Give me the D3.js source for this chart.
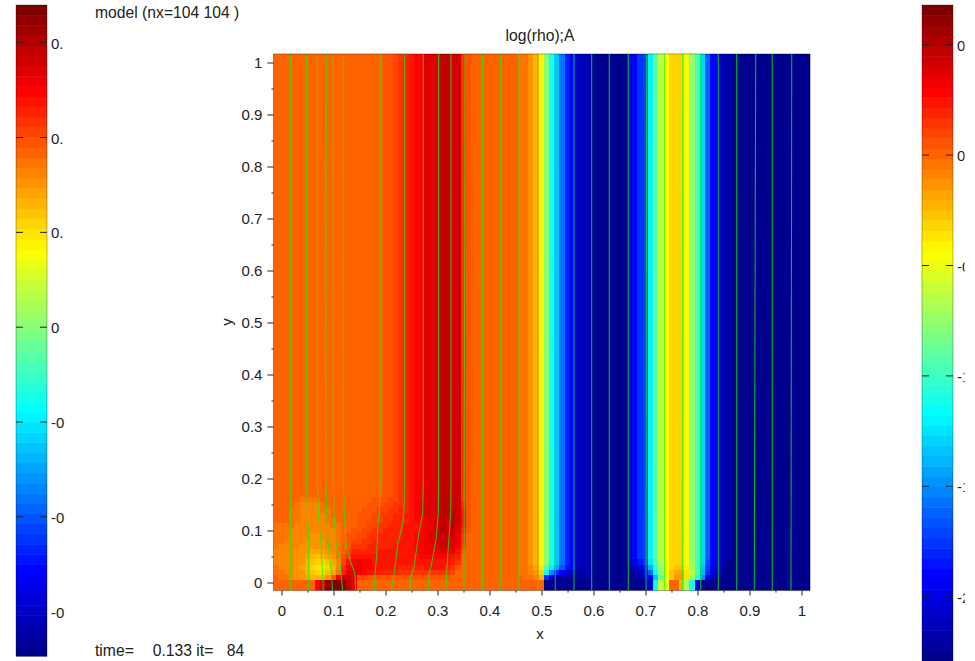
<!DOCTYPE html>
<html>
<head>
<meta charset="utf-8">
<script src="https://cdn.jsdelivr.net/npm/d3@7/dist/d3.min.js"></script>
<style>
  html, body { margin: 0; background: #fff; overflow: hidden; }
  text { font-family: "Liberation Sans", Arial, sans-serif; font-size: 15px; fill: #222; }
  .big { font-size: 15.7px; }
</style>
</head>
<body>
<div id="chart"></div>
<script>
// palette level (0-63) of every column above the disturbed bottom layer
const topProfile = [
  49,49,49,49,49,49,49,49,49,49,49,49,49,49,49,49,49,49,49,49,49,
  50,50,51,52,53,54,55,55,57,57,57,59,59,58,58,52,50,
  49,49,49,49,49,49,49,49,49,48,48,46,44,40,32,25,20,15,10,8,4,3,2,1,
  0,0,0,0,0,0,6,8,11,12,23,29,35,39,42,42,42,39,33,28,21,14,8,6,2,2,
  0,0,0,0,0,0,0,0,0,0,0,0,0,0,0,0
];

// bottom rows, first row is the lowest one, columns 0-39
const leftRows = [
  [49,49,49,49,49,49,49,49,55,58,62,63,63,62,59,56,49,49,49,49,49,49,49,49,49,49,49,49,49,49,49,49,49,49,49,49,49,49,49,49],
  [49,49,49,49,49,49,49,49,55,58,62,63,63,62,59,56,49,49,49,49,49,49,49,49,49,49,49,49,49,49,49,49,49,49,49,49,49,49,49,49],
  [49,48,48,47,46,46,45,44,44,44,46,50,56,58,58,56,51,51,50,50,50,50,50,50,50,50,50,50,50,50,50,50,50,50,49,49,49,49,49,49],
  [48,48,47,47,46,46,44,43,42,42,43,45,48,53,56,57,56,55,54,54,53,53,53,53,52,52,52,52,52,52,52,52,52,52,51,49,49,49,49,49],
  [48,47,47,47,46,45,44,42,41,41,42,44,47,52,55,56,56,55,55,54,54,54,54,54,53,53,53,53,53,54,54,54,54,53,52,50,49,49,49,49],
  [47,47,47,47,46,46,44,43,42,42,43,45,47,51,54,55,56,55,55,54,54,54,54,54,54,54,54,54,54,54,54,54,54,54,53,52,49,49,49,49],
  [47,47,47,47,46,46,45,44,43,44,45,46,48,50,52,54,54,54,54,54,54,54,54,54,54,54,54,54,55,55,55,55,55,55,54,53,49,49,49,49],
  [47,47,47,47,46,46,46,45,45,45,46,47,48,49,51,53,53,53,53,53,54,54,54,54,54,54,54,55,55,56,56,56,57,57,56,54,50,49,49,49],
  [48,47,47,47,47,46,46,46,46,46,47,47,48,49,50,52,52,52,53,53,53,53,53,54,54,54,54,55,55,56,56,57,58,58,57,55,51,49,49,49],
  [48,48,47,47,47,47,46,46,46,46,47,47,48,49,50,51,51,52,52,53,53,53,53,53,54,54,54,55,55,56,57,58,58,58,57,56,52,49,49,49],
  [48,48,48,47,47,47,47,46,46,47,47,47,48,49,50,50,51,51,52,52,53,53,53,53,53,54,54,55,55,56,57,58,58,59,58,56,52,49,49,49],
  [48,48,48,47,47,47,47,47,47,47,47,47,48,49,49,50,50,51,51,52,52,53,53,53,53,54,54,54,55,56,57,58,59,59,58,57,53,50,49,49],
  [48,48,48,48,47,47,47,47,47,47,47,48,48,49,49,49,50,50,51,51,52,52,53,53,53,54,54,54,55,56,57,58,59,59,59,57,54,50,49,49],
  [49,49,49,48,48,47,47,47,47,47,48,48,49,49,49,49,50,50,50,51,51,52,52,53,53,53,54,55,55,56,57,58,59,59,59,58,54,50,49,49],
  [49,49,49,48,48,47,47,47,47,47,48,49,49,49,49,49,50,50,50,51,51,52,52,53,53,54,54,55,56,57,57,58,59,59,59,58,54,50,49,49],
  [49,49,49,48,48,47,47,47,47,48,48,49,49,49,49,49,49,50,50,50,51,51,52,52,53,53,54,55,56,57,57,58,59,59,59,58,54,50,49,49],
  [49,49,49,49,48,47,47,47,47,48,49,49,49,49,49,49,49,49,50,50,50,51,51,52,52,53,54,55,56,57,57,58,59,59,58,58,53,50,49,49],
  [49,49,49,49,49,48,48,48,48,49,49,49,49,49,49,49,49,49,49,50,50,50,51,51,52,53,54,55,55,57,57,57,59,59,58,58,52,50,49,49]
];

// foot of the front near x=0.5, columns 47-60, lowest row first
const midRows = [
  [49,49,49,49,49,0,0,0,0,0,0,0,0,0],
  [49,49,49,49,49,0,0,0,0,0,0,0,0,0],
  [49,48,48,47,44,11,5,2,1,1,1,1,1,1],
  [48,48,47,46,42,24,16,10,7,5,3,2,2,2],
  [48,48,47,45,41,29,23,18,13,9,7,4,3,2]
];

// foot of the band near x=0.75, columns 68-87, lowest row first
const rightRows = [
  [0,0,0,0,6,24,36,38,49,49,44,34,25,6,0,0,0,0,0,0],
  [0,0,0,0,6,24,36,38,49,49,44,34,25,6,0,0,0,0,0,0],
  [0,1,2,4,8,20,30,38,43,46,46,41,33,26,17,8,2,1,0,0],
  [1,2,3,6,14,24,32,39,43,45,45,41,35,28,19,11,6,3,1,0],
  [2,3,6,9,19,26,33,39,42,43,43,40,34,28,20,12,7,4,2,0],
  [4,6,9,11,22,28,34,39,42,42,42,39,33,28,21,13,8,5,2,0]
];

// field lines that stay straight: x at the top, x at the bottom
const straightLines = [
  [0.0177,0.0177],[0.3529,0.3510],[0.3862,0.3862],[0.4215,0.4215],[0.4567,0.4567],
  [0.4927,0.4927],[0.5273,0.5265],[0.5625,0.5625],[0.5965,0.5965],[0.6304,0.6304],
  [0.6669,0.6669],[0.7023,0.7010],[0.7362,0.7362],[0.7715,0.7708],[0.8062,0.8062],
  [0.8400,0.8400],[0.8754,0.8754],[0.9119,0.9092],[0.9438,0.9438],[0.9812,0.9798]
];

// field lines that bend near the bottom, [x, y] going down
const bentLines = [
  [[0.0484,1.0165],[0.0484,0.197],[0.0497,0.133],[0.0522,0.088],[0.0522,-0.0155]],
  [[0.0689,1.0165],[0.0689,0.197],[0.0708,0.133],[0.0753,0.082],[0.0785,0.030],[0.0804,-0.0155]],
  [[0.0860,1.0165],[0.0849,0.197],[0.0869,0.133],[0.0901,0.069],[0.0945,0.030],[0.0984,-0.0155]],
  [[0.0996,1.0165],[0.0996,0.197],[0.1010,0.133],[0.1048,0.075],[0.1125,0.037],[0.1176,-0.0155]],
  [[0.1189,1.0165],[0.1189,0.197],[0.1208,0.133],[0.1240,0.075],[0.1317,0.043],[0.1413,0.017],[0.1426,-0.0155]],
  [[0.1894,1.0165],[0.1894,0.197],[0.1881,0.133],[0.1856,0.114],[0.1830,0.050],[0.1798,0.017],[0.1785,-0.0155]],
  [[0.2369,1.0165],[0.2369,0.197],[0.2356,0.133],[0.2330,0.114],[0.2228,0.069],[0.2183,0.030],[0.2112,-0.0155]],
  [[0.2727,1.0165],[0.2727,0.197],[0.2715,0.133],[0.2631,0.088],[0.2548,0.030],[0.2484,0.011],[0.2471,-0.0155]],
  [[0.3022,1.0165],[0.3022,0.197],[0.3016,0.133],[0.2971,0.082],[0.2888,0.037],[0.2837,0.014],[0.2824,-0.0155]],
  [[0.3260,1.0165],[0.3260,0.197],[0.3253,0.133],[0.3208,0.069],[0.3176,0.017],[0.3163,-0.0155]]
];

const xTicks = [0,0.1,0.2,0.3,0.4,0.5,0.6,0.7,0.8,0.9,1];
const minorTicks = [0.05,0.15,0.25,0.35,0.45,0.55,0.65,0.75,0.85,0.95];

const leftBarTicks = [0.6,0.4,0.2,0,-0.2,-0.4,-0.6];
const leftBarLabels = ["0.","0.","0.","0","-0","-0","-0"];
const rightBarTicks = [0.5,0,-0.5,-1,-1.5,-2];
const rightBarLabels = ["0","0","-0","-1","-1","-2"];

const nLevels = 64;
const width = 975, height = 661;

const x = d3.scaleLinear().domain([-0.0155, 1.0165]).range([273.44, 810.08]);
const y = d3.scaleLinear().domain([-0.0155, 1.0165]).range([590.56, 53.92]);

// jet palette
const jet = d3.scaleLinear()
  .domain([0, 1/8, 3/8, 5/8, 7/8, 1])
  .range(["#00008f", "#0000ff", "#00ffff", "#ffff00", "#ff0000", "#800000"]);
const palette = d3.range(nLevels).map(i => jet(i / (nLevels - 1)));

// full field from the profile and the bottom rows
const field = d3.range(18).map(r => {
  const row = topProfile.slice();
  (leftRows[r] || []).forEach((v, i) => { row[i] = v; });
  (midRows[r] || []).forEach((v, i) => { row[47 + i] = v; });
  (rightRows[r] || []).forEach((v, i) => { row[68 + i] = v; });
  return row;
});
const cellSize = 0.01;
const cellX = i => -0.0155 + cellSize * i;

const svg = d3.select("#chart").append("svg")
  .attr("width", width)
  .attr("height", height)
  .style("display", "block");

const defs = svg.append("defs");
defs.append("clipPath").attr("id", "plot-clip").append("rect")
  .attr("x", x(-0.0155)).attr("y", y(1.0165))
  .attr("width", x(1.0165) - x(-0.0155)).attr("height", y(-0.0155) - y(1.0165));
defs.append("clipPath").attr("id", "label-clip").append("rect")
  .attr("x", 900).attr("y", 0).attr("width", 64.7).attr("height", height);

const plot = svg.append("g").attr("clip-path", "url(#plot-clip)");

// everything above the bottom rows is one tall cell per column
plot.selectAll(".col")
  .data(topProfile)
  .enter().append("rect")
  .attr("class", "col")
  .attr("x", (d, i) => x(cellX(i)))
  .attr("y", y(1.0165))
  .attr("width", x(cellSize) - x(0))
  .attr("height", y(cellX(field.length)) - y(1.0165))
  .attr("fill", d => palette[d])
  .attr("shape-rendering", "crispEdges");

field.forEach((row, r) => {
  plot.append("g").selectAll("rect")
    .data(row)
    .enter().append("rect")
    .attr("x", (d, i) => x(cellX(i)))
    .attr("y", y(cellX(r + 1)))
    .attr("width", x(cellSize) - x(0))
    .attr("height", y(cellX(r)) - y(cellX(r + 1)))
    .attr("fill", d => palette[d])
    .attr("shape-rendering", "crispEdges");
});

// field lines
const line = d3.line().x(d => x(d[0])).y(d => y(d[1]));
const allLines = straightLines
  .map(d => [[d[0], 1.0165], [d[1], -0.0155]])
  .concat(bentLines);

plot.selectAll(".field-line")
  .data(allLines)
  .enter().append("path")
  .attr("class", "field-line")
  .attr("d", line)
  .attr("fill", "none")
  .attr("stroke", "#00ff00")
  .attr("stroke-width", 1.1)
  .attr("stroke-opacity", 0.72);

// frame
svg.append("rect")
  .attr("x", x(-0.0155)).attr("y", y(1.0165))
  .attr("width", x(1.0165) - x(-0.0155)).attr("height", y(-0.0155) - y(1.0165))
  .attr("fill", "none")
  .attr("stroke", "#000")
  .attr("stroke-opacity", 0.35);

// axes
const fmt = d => String(+d.toFixed(1));

function styleAxis(g) {
  g.select(".domain").remove();
  g.selectAll(".tick line").attr("stroke", "#222");
  g.selectAll("text").style("font-size", "15px").attr("fill", "#222");
  return g;
}

svg.append("g")
  .attr("transform", `translate(0,${y(-0.0155)})`)
  .call(d3.axisBottom(x).tickValues(xTicks).tickFormat(fmt).tickSize(5).tickPadding(10))
  .call(styleAxis);
svg.append("g")
  .attr("transform", `translate(0,${y(-0.0155)})`)
  .call(d3.axisBottom(x).tickValues(minorTicks).tickFormat("").tickSize(2))
  .call(styleAxis);
svg.append("g")
  .attr("transform", `translate(${x(-0.0155)},0)`)
  .call(d3.axisLeft(y).tickValues(xTicks).tickFormat(fmt).tickSize(6).tickPadding(5))
  .call(styleAxis);
svg.append("g")
  .attr("transform", `translate(${x(-0.0155)},0)`)
  .call(d3.axisLeft(y).tickValues(minorTicks).tickFormat("").tickSize(2))
  .call(styleAxis);

// colour bars
function colorBar(left, top, bottom, tickValues, tickY, labels, labelX, clip) {
  const w = 31;
  const band = d3.scaleBand().domain(d3.range(nLevels)).range([bottom, top]);
  const g = svg.append("g");
  g.selectAll("rect.level")
    .data(palette)
    .enter().append("rect")
    .attr("class", "level")
    .attr("x", left)
    .attr("y", (d, i) => band(i))
    .attr("width", w)
    .attr("height", band.bandwidth() + 0.5)
    .attr("fill", d => d);
  g.append("rect")
    .attr("x", left).attr("y", top)
    .attr("width", w).attr("height", bottom - top)
    .attr("fill", "none")
    .attr("stroke", "#000")
    .attr("stroke-opacity", 0.3);
  tickValues.forEach((v, i) => {
    const py = tickY(v);
    g.append("line").attr("x1", left).attr("x2", left + 7).attr("y1", py).attr("y2", py)
      .attr("stroke", "#222");
    g.append("line").attr("x1", left + w - 7).attr("x2", left + w).attr("y1", py).attr("y2", py)
      .attr("stroke", "#222");
    g.append("text")
      .attr("x", labelX)
      .attr("y", py + 6)
      .attr("clip-path", clip ? `url(#${clip})` : null)
      .text(labels[i]);
  });
}

const leftBarY = d3.scaleLinear().domain([0.6, -0.6]).range([42.7, 611.7]);
const rightBarY = d3.scaleLinear().domain([0.5, -2]).range([44.7, 596.7]);

colorBar(16, 5, 656, leftBarTicks, leftBarY, leftBarLabels, 51, null);
colorBar(922, 5, 661, rightBarTicks, rightBarY, rightBarLabels, 957, "label-clip");

// titles
svg.append("text").attr("class", "big").attr("x", 95).attr("y", 18).text("model (nx=104 104 )");
svg.append("text").attr("class", "big").attr("x", 540).attr("y", 41).attr("text-anchor", "middle").text("log(rho);A");
svg.append("text").attr("x", 540).attr("y", 639).attr("text-anchor", "middle").text("x");
svg.append("text")
  .attr("transform", "translate(232,322) rotate(-90)")
  .attr("text-anchor", "middle")
  .text("y");
svg.append("text").attr("class", "big").attr("x", 95).attr("y", 656).text("time=");
svg.append("text").attr("class", "big").attr("x", 152.7).attr("y", 656).text("0.133 it=");
svg.append("text").attr("class", "big").attr("x", 226.7).attr("y", 656).text("84");
</script>
</body>
</html>
